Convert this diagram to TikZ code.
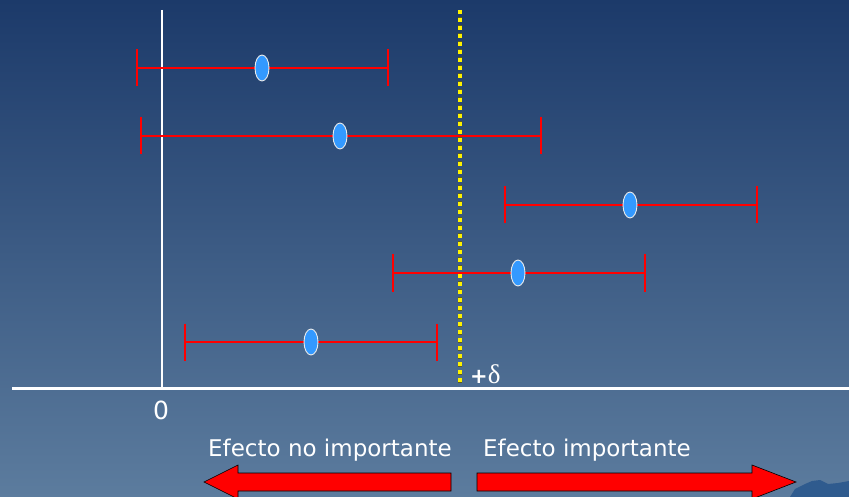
\documentclass[tikz,border=0pt]{standalone}
\usepackage{fontspec}
\setmainfont{DejaVu Sans}
\newfontfamily\serifgreek{Liberation Serif}
\usetikzlibrary{shapes.geometric}
\definecolor{bgtop}{HTML}{1C3A6A}
\definecolor{bgbot}{HTML}{5C7C9E}
\definecolor{ptfill}{HTML}{3399FF}
\definecolor{hill}{HTML}{2F5B8E}
\definecolor{dotedge}{HTML}{5A5A20}
\tikzset{
  ci/.style={draw=red, line width=2pt},
  pt/.style={ellipse, draw=white!85!gray, line width=0.9pt, fill=ptfill,
    minimum width=14pt, minimum height=26pt, inner sep=0pt},
  lbl/.style={text=white, font=\fontsize{23}{23}\selectfont, inner sep=0pt},
  bigarrow/.style={fill=red, draw=black, line width=0.6pt},
}
\begin{document}
\begin{tikzpicture}[x=1pt,y=-1pt]
\useasboundingbox (0,0) rectangle (849,497);
\clip (0,0) rectangle (849,497);
\shade[top color=bgtop, bottom color=bgbot] (0,0) rectangle (849,497);

% axes
\coordinate (vtop) at (162,10); \coordinate (vbot) at (162,388);
\coordinate (hl) at (12,388); \coordinate (hr) at (849,388);
\draw[white, line width=2pt] (vtop) -- (vbot);
\draw[white, line width=3pt] (hl) -- (hr);

% threshold line
\coordinate (dtop) at (460,10); \coordinate (dbot) at (460,384);
\draw[dotedge, line width=4.6pt, dash pattern=on 5pt off 3pt, dash phase=0.5pt] (dtop) -- (dbot);
\draw[yellow, line width=3.4pt, dash pattern=on 4pt off 4pt] (dtop) -- (dbot);

% confidence intervals
\foreach \i/\y/\a/\m/\b in {1/68/137/262/388, 2/136/141/340/541, 3/205/505/630/757, 4/273/393/518/645, 5/342/185/311/437}{
  \coordinate (L\i) at (\a,\y);
  \coordinate (R\i) at (\b,\y);
  \draw[ci] (L\i) -- (R\i);
  \draw[ci] ([yshift=18.5pt]L\i) -- ([yshift=-18.5pt]L\i);
  \draw[ci] ([yshift=18.5pt]R\i) -- ([yshift=-18.5pt]R\i);
  \node[pt] (P\i) at (\m,\y) {};
}

% labels
\node[lbl, font=\fontsize{25}{25}\selectfont] (zero) at (161,410) {0};
\node[lbl, anchor=base west, font=\fontsize{21}{21}\selectfont] (delta) at (470,383) {\textbf{+}{\serifgreek\fontsize{27}{27}\selectfont δ}};
\node[lbl, anchor=base west] (tno) at (208,456) {Efecto no importante};
\node[lbl, anchor=base west] (tsi) at (483,456) {Efecto importante};

% big arrows
\draw[bigarrow] (204,482) -- (238,465) -- (238,473) -- (451,473) -- (451,491) -- (238,491) -- (238,499) -- cycle;
\draw[bigarrow] (477,473) -- (752,473) -- (752,465) -- (796,482) -- (752,499) -- (752,491) -- (477,491) -- cycle;

% corner decoration
\fill[hill] (790,497) -- (795,489) -- (805,484) -- (812,481) -- (820,480) -- (828,484) -- (838,483) -- (849,481) -- (849,497) -- cycle;
\end{tikzpicture}
\end{document}
